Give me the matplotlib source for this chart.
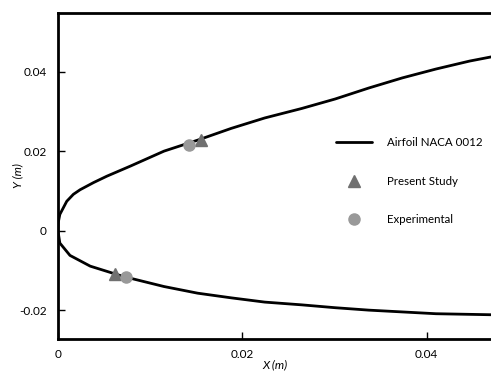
import matplotlib.pyplot as plt

plt.rcParams['font.family'] = ['Lato', 'DejaVu Sans']

# airfoil outline
x_upper = [0.0, 0.00003, 0.0002, 0.00095, 0.00167, 0.0024, 0.00386, 0.0053, 0.00787, 0.01151, 0.01516,
           0.0188, 0.02244, 0.02645, 0.03009, 0.03374, 0.03738, 0.04102, 0.04467, 0.04733]
y_upper = [0.0, 0.0021, 0.0041, 0.0074, 0.00915, 0.0103, 0.0121, 0.0137, 0.01625, 0.0200, 0.02276,
           0.02571, 0.02833, 0.03071, 0.03310, 0.03586, 0.03840, 0.04062, 0.04262, 0.04381]
x_lower = [0.0, 0.00008, 0.0002, 0.0013, 0.0035, 0.0071, 0.01151, 0.01516, 0.0188,
           0.02244, 0.02645, 0.03009, 0.03374, 0.03738, 0.04102, 0.04733]
y_lower = [0.0, -0.0013, -0.0031, -0.0062, -0.0089, -0.0115, -0.01402, -0.01569, -0.01686,
           -0.01793, -0.01862, -0.01934, -0.01995, -0.0204, -0.02085, -0.02112]

# measured points
x_present = [0.0155, 0.0062]
y_present = [0.0228, -0.0109]
x_exp = [0.0142, 0.0074]
y_exp = [0.0216, -0.0117]

fig = plt.figure(figsize=(4.91, 3.72), dpi=100)
ax = fig.add_axes([58 / 491, 1 - 339 / 372, 1 - 58 / 491, (339 - 13) / 372])

ax.plot(x_upper, y_upper, color='black', lw=2.0, solid_capstyle='round', solid_joinstyle='round',
        label='Airfoil NACA 0012')
ax.plot(x_lower, y_lower, color='black', lw=2.0, solid_capstyle='round', solid_joinstyle='round')
ax.plot(x_present, y_present, ls='none', marker='^', ms=9, color='#707070', label='Present Study')
ax.plot(x_exp, y_exp, ls='none', marker='o', ms=8, color='#999999', label='Experimental')

ax.set_xlim(0, 0.0470)
ax.set_ylim(-0.0272, 0.0547)
ax.set_xticks([0, 0.02, 0.04])
ax.set_xticklabels(['0', '0.02', '0.04'])
ax.set_yticks([-0.02, 0, 0.02, 0.04])
ax.set_yticklabels(['-0.02', '0', '0.02', '0.04'])
ax.tick_params(direction='in', length=5, width=1, labelsize=8.5, pad=8)
ax.tick_params(axis='x', pad=7)

for s in ['left', 'bottom', 'top']:
    ax.spines[s].set_linewidth(2)
ax.spines['right'].set_visible(False)

ax.set_xlabel('X (m)', style='italic', fontsize=8.5, labelpad=0)
ax.set_ylabel('Y (m)', style='italic', fontsize=8.5, labelpad=-3)

ax.legend(loc='upper left', bbox_to_anchor=(0.629, 0.637), frameon=False, fontsize=8.3,
          borderpad=0, labelspacing=2.4, handlelength=3.1, handletextpad=1.35)

fig.savefig('out.png', dpi=100)
